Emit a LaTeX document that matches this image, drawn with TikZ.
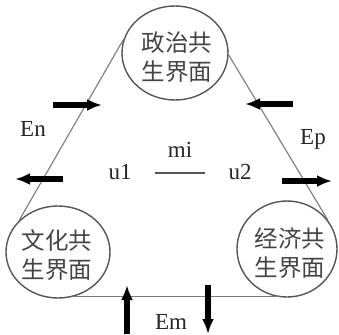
\documentclass[tikz,border=0pt]{standalone}
\usepackage{fontspec}
\setmainfont{Liberation Serif}
\newfontfamily\cjk{Noto Sans CJK SC}
\usetikzlibrary{shapes.geometric,arrows.meta}
\definecolor{ringgray}{HTML}{555555}
\definecolor{linkgray}{HTML}{7A7A7A}
\definecolor{textgray}{HTML}{444444}
\tikzset{
  ring/.style={ellipse, draw=ringgray, line width=1.4pt, inner sep=0pt},
  cjklabel/.style={font=\cjk\fontsize{23.5}{29}\selectfont, text=textgray, align=center, inner sep=0pt},
  link/.style={draw=linkgray, line width=1.1pt},
  flow/.style={line width=5.5pt, black, -{Latex[length=15pt,width=12pt]}},
  lbl/.style={font=\fontsize{23}{26}\selectfont, text=black!85, inner sep=0pt},
}
\begin{document}
\begin{tikzpicture}[x=1pt,y=-1pt]
\useasboundingbox (0,0) rectangle (339,334);
% three interface rings
\node[ring, minimum width=106pt, minimum height=94pt] (pol) at (175,53) {};
\node[ring, minimum width=104pt, minimum height=92pt] (cul) at (58,252) {};
\node[ring, minimum width=100pt, minimum height=96pt] (eco) at (287,249) {};
\node[cjklabel] (polt) at (177,57) {政治共\\生界面};
\node[cjklabel] (cult) at (57,255) {文化共\\生界面};
\node[cjklabel] (ecot) at (290,253) {经济共\\生界面};
% links between the rings
\draw[link] (pol.165) -- (cul.141);
\draw[link] (pol.-2) -- (eco.35);
\draw[link] (cul.-71) -- (cul.-71 -| eco.-100);
% exchange flows
\draw[flow] (53,105) -- (102,105);
\draw[flow] (63,179) -- (15,179);
\draw[flow] (293,104) -- (245,104);
\draw[flow] (282,181) -- (332,181);
\draw[flow] (127,334) -- (127,285);
\draw[flow] (208,285) -- (208,334);
% labels
\node[lbl] (en) at (33,129) {En};
\node[lbl] (ep) at (313,139) {Ep};
\node[lbl] (mi) at (180,150) {mi};
\node[lbl] (u1) at (120,172) {u1};
\node[lbl] (u2) at (240,172) {u2};
\node[lbl] (em) at (171,322) {Em};
\draw[ringgray, line width=1.3pt] (155,173) -- (205,173);
\end{tikzpicture}
\end{document}
